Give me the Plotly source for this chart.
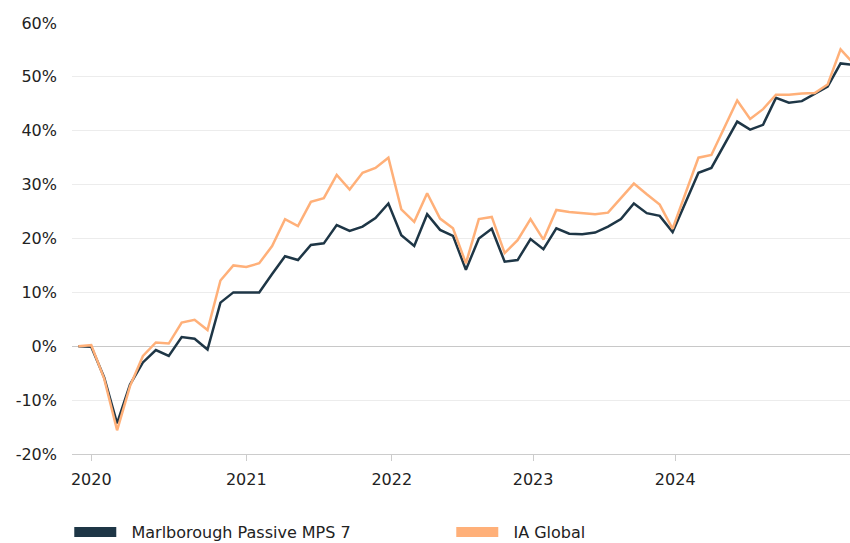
import plotly.graph_objects as go

# ---- data ----
period_index = list(range(61))
mps7 = [0.0, -0.1, -5.8, -14.3, -7.1, -3.0, -0.7, -1.8, 1.7, 1.4, -0.6, 8.1, 10.0, 10.0, 10.0,
        13.4, 16.7, 16.0, 18.8, 19.1, 22.5, 21.4, 22.2, 23.8, 26.5, 20.6, 18.6, 24.5, 21.6, 20.5,
        14.2, 20.0, 21.8, 15.7, 16.0, 19.9, 18.0, 21.9, 20.9, 20.8, 21.1, 22.2, 23.6, 26.5, 24.7,
        24.2, 21.2, 26.7, 32.2, 33.1, 37.4, 41.7, 40.2, 41.1, 46.1, 45.2, 45.5, 46.9, 48.2, 52.5, 52.2]
ia_global = [0.0, 0.2, -6.0, -15.6, -7.4, -1.8, 0.7, 0.5, 4.4, 4.9, 3.0, 12.2, 15.0, 14.7, 15.4,
             18.6, 23.6, 22.3, 26.8, 27.5, 31.8, 29.1, 32.2, 33.1, 35.0, 25.4, 23.1, 28.4, 23.7, 21.9,
             15.4, 23.6, 24.0, 17.3, 19.7, 23.6, 19.8, 25.3, 24.9, 24.7, 24.5, 24.8, 27.6, 30.2, 28.2,
             26.3, 21.8, 28.4, 35.0, 35.5, 40.5, 45.6, 42.2, 44.0, 46.7, 46.7, 46.9, 47.0, 48.6, 55.1, 52.5]
year_labels = ["2020", "2021", "2022", "2023", "2024"]
year_positions = [1, 13, 24.26, 35.2, 46.2]
y_values = [-20, -10, 0, 10, 20, 30, 40, 50, 60]
y_labels = ["-20%", "-10%", "0%", "10%", "20%", "30%", "40%", "50%", "60%"]
series_names = ["Marlborough Passive MPS 7", "IA Global"]

DARK = "#1E3646"
ORANGE = "#FFB079"
FONT = "DejaVu Sans, Verdana, sans-serif"
NB = "\u00a0\u00a0"

fig = go.Figure()
for name, vals, col in [(series_names[0], mps7, DARK), (series_names[1], ia_global, ORANGE)]:
    fig.add_trace(go.Scatter(x=period_index, y=vals, mode="lines", name=name,
                             line=dict(color=col, width=2.5), showlegend=False, hoverinfo="skip"))
# legend-only entries with thick swatches
for name, col in [(series_names[0], DARK), (series_names[1], ORANGE)]:
    fig.add_trace(go.Scatter(x=[None], y=[None], mode="lines", name=NB + name,
                             line=dict(color=col, width=10), showlegend=True))

fig.update_layout(
    width=850, height=543,
    margin=dict(l=72, r=0, t=23, b=89, autoexpand=False),
    paper_bgcolor="white", plot_bgcolor="white",
    font=dict(family=FONT, size=16, color="#222"),
    showlegend=True,
    legend=dict(orientation="h", x=-0.0035, xanchor="left", y=-0.1415, yanchor="top",
                itemwidth=42, entrywidth=325, entrywidthmode="pixels",
                font=dict(family=FONT, size=16, color="#222"), itemclick=False),
)
fig.update_xaxes(range=[-0.49, 59.73], tickmode="array", tickvals=year_positions, ticktext=year_labels,
                 showgrid=False, zeroline=False, showline=True, linecolor="#cccccc", linewidth=1,
                 ticks="outside", ticklen=6, tickcolor="#cccccc", ticklabelstandoff=5,
                 tickfont=dict(size=16, color="#222"))
fig.update_yaxes(range=[-20, 60], tickmode="array", tickvals=y_values, ticktext=y_labels,
                 showgrid=True, gridcolor="#ececec", gridwidth=1,
                 zeroline=True, zerolinecolor="#c8c8c8", zerolinewidth=1,
                 showline=False, ticks="", ticklabelstandoff=14, tickfont=dict(size=16, color="#222"))

fig.write_html("out.html", config={"displayModeBar": False},
               post_script="document.body.style.margin='0px';document.body.style.overflow='hidden';")
